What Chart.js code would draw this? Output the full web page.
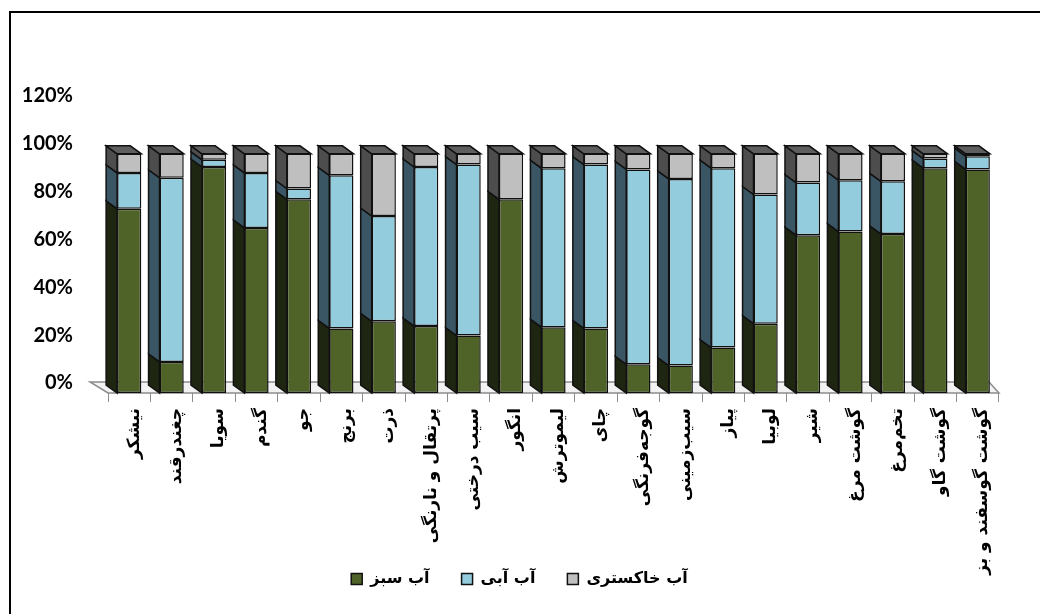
<!DOCTYPE html>
<html>
<head>
<meta charset="utf-8">
<script src="https://cdn.jsdelivr.net/npm/chart.js@4.4.0/dist/chart.umd.min.js"></script>
<style>
  body { margin: 0; background: #fff; }
</style>
</head>
<body>
<canvas id="myChart" width="1040" height="614"></canvas>
<script>
const products = [
  'نیشکر', 'چغندرقند', 'سویا', 'گندم', 'جو', 'برنج', 'ذرت',
  'پرتقال و نارنگی', 'سیب درختی', 'انگور', 'لیموترش', 'چای',
  'گوجه‌فرنگی', 'سیب‌زمینی', 'پیاز', 'لوبیا', 'شیر', 'گوشت مرغ',
  'تخم‌مرغ', 'گوشت گاو', 'گوشت گوسفند و بز'
];
const seriesNames = ['آب سبز', 'آب آبی', 'آب خاکستری'];

// percent of total water footprint
const greenWater = [77, 13, 94.5, 69, 81, 27, 30, 28, 24, 81, 27.5, 27, 12, 11.5, 19, 29, 66, 67.5, 66.5, 94, 93.5];
const blueWater  = [15, 77, 3, 23, 4.5, 64, 44, 66.5, 71.5, 0, 66.5, 68.5, 81.5, 78, 75, 54, 22, 21.5, 22, 4, 5.5];
const greyWater  = [8, 10, 2.5, 8, 14.5, 9, 26, 5.5, 4.5, 19, 6, 4.5, 6.5, 10.5, 6, 17, 12, 11, 11.5, 2, 1];

const yMax = 120;
const yStep = 20;

const frontColors = ['#4f6228', '#93cddd', '#bfbfbf'];
const sideColors = ['#1e2612', '#3a5563', '#4d4d4d'];
const topColor = '#5e5e5e';
const depth = { x: 11, y: 8 };

// fake 3d: side faces, top faces and the floor
const bars3d = {
  id: 'bars3d',
  afterLayout(chart) {
    // legend sits beside the long category labels, as in the original
    chart.legend.top -= 39;
    chart.legend.left += 10;
    chart.legend.right += 10;
  },
  beforeDatasetsDraw(chart) {
    const ctx = chart.ctx;
    const area = chart.chartArea;
    ctx.save();
    ctx.lineWidth = 1.5;
    ctx.strokeStyle = '#8c8c8c';
    ctx.fillStyle = '#f2f2f2';
    ctx.beginPath();
    ctx.moveTo(area.left, area.bottom);
    ctx.lineTo(area.right, area.bottom);
    ctx.lineTo(area.right - 10, area.bottom - 11);
    ctx.lineTo(area.left - 18, area.bottom - 11);
    ctx.closePath();
    ctx.fill();
    ctx.stroke();

    ctx.lineWidth = 1.5;
    ctx.strokeStyle = '#111';
    chart.data.datasets.forEach((ds, i) => {
      const meta = chart.getDatasetMeta(i);
      meta.data.forEach(bar => {
        const p = bar.getProps(['x', 'y', 'base', 'width'], true);
        if (Math.abs(p.base - p.y) < 0.5) return;
        const left = p.x - p.width / 2;
        ctx.beginPath();
        ctx.moveTo(left, p.base);
        ctx.lineTo(left, p.y);
        ctx.lineTo(left - depth.x, p.y - depth.y);
        ctx.lineTo(left - depth.x, p.base - depth.y);
        ctx.closePath();
        ctx.fillStyle = sideColors[i];
        ctx.fill();
        ctx.stroke();
      });
    });

    const topMeta = chart.getDatasetMeta(chart.data.datasets.length - 1);
    topMeta.data.forEach(bar => {
      const p = bar.getProps(['x', 'y', 'width'], true);
      const left = p.x - p.width / 2;
      const right = p.x + p.width / 2;
      ctx.beginPath();
      ctx.moveTo(left, p.y);
      ctx.lineTo(right, p.y);
      ctx.lineTo(right - depth.x, p.y - depth.y);
      ctx.lineTo(left - depth.x, p.y - depth.y);
      ctx.closePath();
      ctx.fillStyle = topColor;
      ctx.fill();
      ctx.stroke();
    });
    ctx.restore();
  },
  afterDraw(chart) {
    const ctx = chart.ctx;
    ctx.save();
    ctx.lineWidth = 2;
    ctx.strokeStyle = '#000';
    ctx.strokeRect(10, 12, 1040, 620);
    ctx.restore();
  }
};

var ctx = document.getElementById('myChart').getContext('2d');
var myChart = new Chart(ctx, {
  type: 'bar',
  data: {
    labels: products,
    datasets: [
      { label: seriesNames[0], data: greenWater, backgroundColor: frontColors[0] },
      { label: seriesNames[1], data: blueWater, backgroundColor: frontColors[1] },
      { label: seriesNames[2], data: greyWater, backgroundColor: frontColors[2] }
    ].map(ds => Object.assign(ds, {
      borderColor: '#111',
      borderWidth: 1.5,
      borderSkipped: false,
      categoryPercentage: 1,
      barPercentage: 0.57
    }))
  },
  options: {
    responsive: false,
    animation: false,
    layout: { padding: { left: 20, right: 41, top: 106, bottom: 0 } },
    plugins: {
      legend: {
        position: 'bottom',
        maxHeight: 36,
        labels: {
          boxWidth: 11,
          boxHeight: 11,
          padding: 32,
          color: '#000',
          font: { family: 'DejaVu Sans', size: 16, weight: 'bold' }
        }
      },
      tooltip: { enabled: false }
    },
    scales: {
      x: {
        stacked: true,
        grid: { offset: true, drawOnChartArea: false, drawTicks: true, tickLength: 9, color: '#8c8c8c' },
        border: { display: false },
        ticks: {
          minRotation: 90,
          maxRotation: 90,
          autoSkip: false,
          labelOffset: 5,
          padding: 6,
          color: '#000',
          font: { family: 'DejaVu Sans', size: 17, weight: 'bold' }
        },
        afterFit(scale) { scale.height = 185; }
      },
      y: {
        stacked: true,
        min: 0,
        max: yMax,
        grid: { display: false },
        border: { display: false },
        ticks: {
          stepSize: yStep,
          labelOffset: -10,
          padding: 27,
          color: '#000',
          font: { family: 'Lato', size: 20, weight: 'bold' },
          callback: v => v + '%'
        },
        afterFit(scale) { scale.width = 88; }
      }
    }
  },
  plugins: [bars3d]
});
</script>
</body>
</html>
